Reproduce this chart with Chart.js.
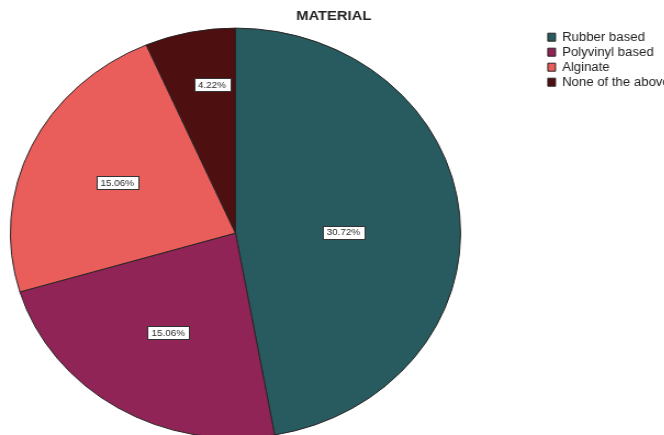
<!DOCTYPE html>
<html>
<head>
<meta charset="utf-8">
<title>MATERIAL</title>
<script src="https://cdn.jsdelivr.net/npm/chart.js@4/dist/chart.umd.min.js"></script>
<style>
    html, body { margin: 0; padding: 0; background: #fff; overflow: hidden; }
    /* the chart is drawn round and then widened a little */
    #wrap { width: 620px; height: 435px; transform: scaleX(1.098); transform-origin: 0 0; }
</style>
</head>
<body>
<div id="wrap"><canvas id="materialChart" width="620" height="435"></canvas></div>
<script>
// Material pie

var materials = ['Rubber based', 'Polyvinyl based', 'Alginate', 'None of the above'];
var percents = [30.72, 15.06, 15.06, 4.22];
var sliceColors = ['#275b5f', '#912456', '#e95d5b', '#4d0f10'];

var FONT = 'Arial, "Liberation Sans", sans-serif';

// moves the pie away from the middle of the free area
var pieOffset = {
    id: 'pieOffset',
    afterLayout: function (chart, args, opts) {
        var area = chart.chartArea;
        area.left += opts.x;
        area.right += opts.x;
        area.top += opts.y;
        area.bottom += opts.y;
    }
};

// boxed percentage on each slice
var sliceLabels = {
    id: 'sliceLabels',
    afterDatasetsDraw: function (chart, args, opts) {
        var ctx = chart.ctx;
        var meta = chart.getDatasetMeta(0);
        ctx.save();
        ctx.font = opts.size + 'px ' + FONT;
        ctx.textAlign = 'center';
        ctx.textBaseline = 'middle';
        meta.data.forEach(function (arc, i) {
            var p = arc.getProps(['x', 'y', 'startAngle', 'endAngle', 'outerRadius'], true);
            var mid = (p.startAngle + p.endAngle) / 2 + opts.turn[i];
            var r = p.outerRadius * opts.radii[i];
            var x = p.x + Math.cos(mid) * r;
            var y = p.y + Math.sin(mid) * r;
            var text = percents[i].toFixed(2) + '%';
            var w = Math.round(ctx.measureText(text).width + 7);
            var h = opts.size + 4;
            var left = Math.round(x - w / 2) + 0.5;
            var top = Math.round(y - h / 2) + 0.5;
            ctx.fillStyle = '#ffffff';
            ctx.fillRect(left, top, w, h);
            ctx.strokeStyle = '#333333';
            ctx.lineWidth = 1;
            ctx.strokeRect(left, top, w, h);
            ctx.fillStyle = '#2a2a2a';
            ctx.fillText(text, x, y + 0.5);
        });
        ctx.restore();
    }
};

function initMaterialChart() {
    var ctx = document.getElementById('materialChart').getContext('2d');
    return new Chart(ctx, {
        type: 'pie',
        data: {
            labels: materials,
            datasets: [{
                data: percents,
                backgroundColor: sliceColors,
                borderColor: '#2a2424',
                borderWidth: 1,
                radius: 205,
                clip: false
            }]
        },
        options: {
            responsive: false,
            animation: false,
            layout: {
                padding: { left: -12 }
            },
            plugins: {
                title: {
                    display: true,
                    text: 'MATERIAL',
                    color: '#222222',
                    font: { family: FONT, size: 13.5, weight: 'bold' },
                    padding: { top: 8, bottom: 4 }
                },
                legend: {
                    position: 'right',
                    align: 'start',
                    fullSize: false,
                    labels: {
                        boxWidth: 7,
                        boxHeight: 8,
                        padding: 3,
                        color: '#222222',
                        font: { family: FONT, size: 12 }
                    }
                },
                tooltip: { enabled: false },
                pieOffset: { x: -33.5, y: 1.5 },
                sliceLabels: {
                    size: 9,
                    radii: [0.48, 0.57, 0.58, 0.73],
                    turn: [0.08, 0, 0, 0.06]
                }
            }
        },
        plugins: [pieOffset, sliceLabels]
    });
}

initMaterialChart();
</script>
</body>
</html>
